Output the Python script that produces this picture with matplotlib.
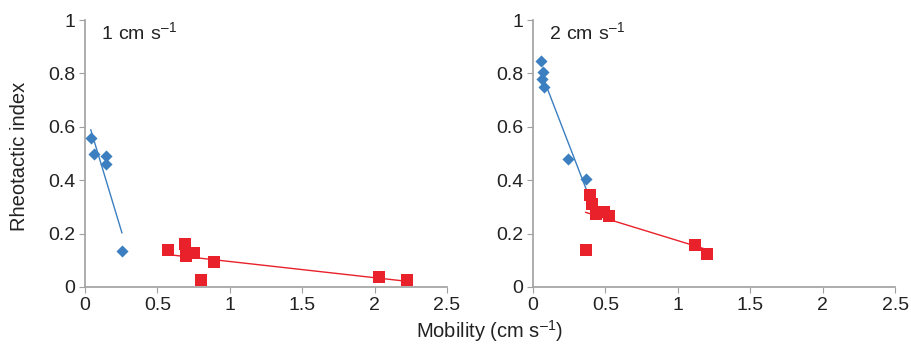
import matplotlib
matplotlib.use("Agg")
import matplotlib.pyplot as plt
import numpy as np

plt.rcParams['font.family'] = ['Liberation Sans', 'DejaVu Sans']
plt.rcParams['mathtext.fontset'] = 'custom'
plt.rcParams['mathtext.rm'] = 'Liberation Sans'

# panel 1: 1 cm/s
blue1_x = [0.04, 0.06, 0.145, 0.145, 0.255]
blue1_y = [0.56, 0.50, 0.49, 0.46, 0.135]
red1_x = [0.57, 0.69, 0.695, 0.75, 0.89, 0.80, 2.03, 2.225]
red1_y = [0.137, 0.162, 0.116, 0.128, 0.092, 0.027, 0.036, 0.026]

# panel 2: 2 cm/s
blue2_x = [0.053, 0.071, 0.064, 0.078, 0.241, 0.368]
blue2_y = [0.846, 0.805, 0.779, 0.748, 0.481, 0.403]
red2_x = [0.395, 0.409, 0.437, 0.488, 0.524, 0.363, 1.119, 1.202]
red2_y = [0.343, 0.312, 0.275, 0.280, 0.266, 0.140, 0.158, 0.125]

panels = ["1", "2"]
xticks = [0, 0.5, 1, 1.5, 2, 2.5]
xlabels = ["0", "0.5", "1", "1.5", "2", "2.5"]
yticks = [0, 0.2, 0.4, 0.6, 0.8, 1]
ylabels = ["0", "0.2", "0.4", "0.6", "0.8", "1"]

BLUE = "#3b7fc0"
RED = "#e8212a"
TXT = "#222222"

fig = plt.figure(figsize=(9.12, 3.47), dpi=100)
ax1 = fig.add_axes([0.0932, 0.173, 0.397, 0.769])
ax2 = fig.add_axes([0.5845, 0.173, 0.397, 0.769])

data = [(ax1, blue1_x, blue1_y, red1_x, red1_y),
        (ax2, blue2_x, blue2_y, red2_x, red2_y)]

for (ax, bx, by, rx, ry), p in zip(data, panels):
    # linear trend lines
    for xs, ys, c in [(bx, by, BLUE), (rx, ry, RED)]:
        k, b = np.polyfit(xs, ys, 1)
        xx = np.array([min(xs), max(xs)])
        ax.plot(xx, k * xx + b, color=c, lw=1, zorder=2)
    ax.scatter(bx, by, marker='D', s=38, color=BLUE, zorder=3, linewidths=0)
    ax.scatter(rx, ry, marker='s', s=70, color=RED, zorder=3, linewidths=0)
    ax.set_xlim(0, 2.5)
    ax.set_ylim(0, 1)
    ax.set_xticks(xticks)
    ax.set_xticklabels(xlabels)
    ax.set_yticks(yticks)
    ax.set_yticklabels(ylabels)
    for s in ['top', 'right']:
        ax.spines[s].set_visible(False)
    for s in ['left', 'bottom']:
        ax.spines[s].set_color('#a0a0a0')
        ax.spines[s].set_linewidth(1.2)
    ax.tick_params(colors='#a0a0a0', labelcolor=TXT, labelsize=14,
                   length=4, direction='out', pad=3)
    ax.text(0.044, 0.995, r"$\mathregular{%s\ cm\ s^{–1}}$" % p, transform=ax.transAxes,
            fontsize=14, color=TXT, va='top', ha='left')

fig.text(20 / 912, 0.548, "Rheotactic index", rotation=90, fontsize=14.5,
         color=TXT, ha='center', va='center')
fig.text(0.537, 0.045, r"Mobility (cm s$\mathregular{^{–1}}$)", fontsize=14.5,
         color=TXT, ha='center', va='center')

fig.savefig("out.png", dpi=100)
